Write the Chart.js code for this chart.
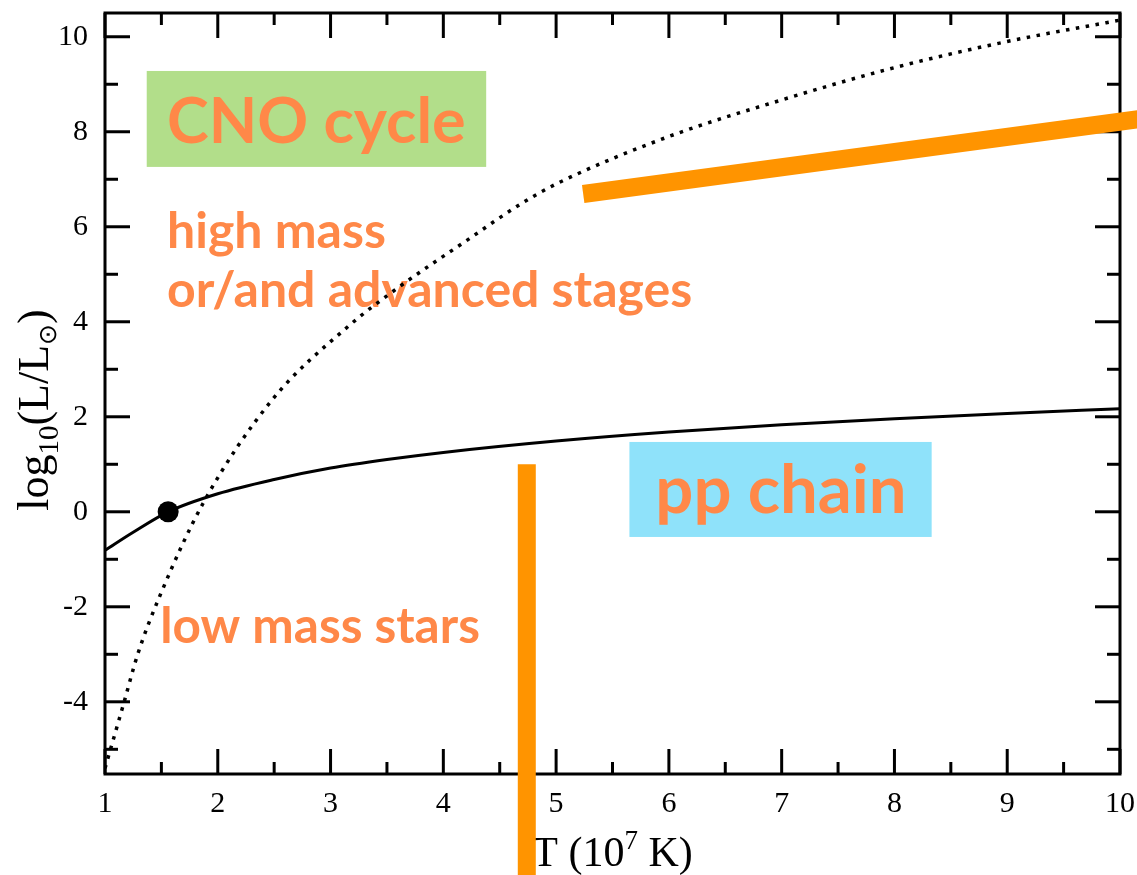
<!DOCTYPE html>
<html>
<head>
<meta charset="utf-8">
<script src="https://cdn.jsdelivr.net/npm/chart.js@4.4.0/dist/chart.umd.min.js"></script>
<style>
  html, body { margin: 0; padding: 0; background: #fff; }
</style>
</head>
<body>
<canvas id="grafico" width="1137" height="875"></canvas>
<script>
// Datos leídos de la figura
// pp chain (línea continua)
const ppT = [1.0, 1.25, 1.56, 2.0, 2.5, 3.0, 3.5, 4.0, 5.0, 6.0, 7.0, 8.0, 9.0, 10.0];
const ppL = [-0.81, -0.43, 0.0, 0.38, 0.68, 0.92, 1.1, 1.25, 1.49, 1.68, 1.83, 1.96, 2.07, 2.17];

// CNO cycle (línea punteada)
const cnoT = [1.0, 1.17, 1.29, 1.49, 1.87, 2.48, 3.15, 3.6, 4.2, 4.7, 5.0, 6.0, 7.0, 8.0, 9.0, 10.0];
const cnoL = [-5.4, -4.0, -3.0, -1.75, 0.18, 2.35, 3.89, 4.72, 5.7, 6.5, 6.9, 7.9, 8.67, 9.35, 9.9, 10.35];

// Sol
const solT = [1.56];
const solL = [0.0];

// Barras naranjas
const barraDiagT = [5.24, 10.3];
const barraDiagL = [6.69, 8.31];
const barraVertT = [4.74, 4.74];
const barraVertL = [1.0, -7.8];

// Ejes
const xTicks = [1, 2, 3, 4, 5, 6, 7, 8, 9, 10];
const xMinor = [1.5, 2.5, 3.5, 4.5, 5.5, 6.5, 7.5, 8.5, 9.5];
const yTicks = [-4, -2, 0, 2, 4, 6, 8, 10];
const yMinor = [-5, -3, -1, 1, 3, 5, 7, 9];

// Etiquetas de texto (coordenadas en datos)
const cajas = [
  { x0: 1.37, x1: 4.38, y0: 9.28, y1: 7.26, color: '#b2de8a' },
  { x0: 5.65, x1: 8.33, y0: 1.47, y1: -0.53, color: '#8fe2fa' }
];
const textos = [
  { texto: 'CNO cycle', x: 1.55, y: 7.76, size: 63 },
  { texto: 'pp chain', x: 5.88, y: -0.03, size: 67 },
  { texto: 'high mass', x: 1.55, y: 5.55, size: 50 },
  { texto: 'or/and advanced stages', x: 1.55, y: 4.31, size: 50 },
  { texto: 'low mass stars', x: 1.49, y: -2.77, size: 49.5 }
];

const pares = (xs, ys) => xs.map((v, i) => ({ x: v, y: ys[i] }));

/**
 * Dibuja un texto con partes de distinto tamaño (sub/superíndices)
 */
function dibujarPartes(ctx, partes, x, y) {
  let ancho = 0;
  partes.forEach(p => {
    ctx.font = p.size + 'px "Liberation Serif"';
    p.w = ctx.measureText(p.t).width;
    ancho += p.w;
  });
  let cx = x - ancho / 2;
  ctx.textAlign = 'left';
  ctx.textBaseline = 'alphabetic';
  partes.forEach(p => {
    ctx.font = p.size + 'px "Liberation Serif"';
    ctx.fillText(p.t, cx, y + (p.dy || 0));
    cx += p.w;
  });
}

function linea(ctx, x1, y1, x2, y2) {
  ctx.beginPath();
  ctx.moveTo(x1, y1);
  ctx.lineTo(x2, y2);
  ctx.stroke();
}

// Quitar el relleno automático de las escalas
function sinRelleno(scale) {
  scale.paddingTop = 0;
  scale.paddingBottom = 0;
  scale.paddingLeft = 0;
  scale.paddingRight = 0;
}

const marcoPlugin = {
  id: 'marco',
  beforeDatasetsDraw(chart) {
    const { ctx, chartArea: a, scales: { x, y } } = chart;
    ctx.save();

    // Cajas de color
    cajas.forEach(c => {
      const px0 = x.getPixelForValue(c.x0), px1 = x.getPixelForValue(c.x1);
      const py0 = y.getPixelForValue(c.y0), py1 = y.getPixelForValue(c.y1);
      ctx.fillStyle = c.color;
      ctx.fillRect(px0, py0, px1 - px0, py1 - py0);
    });

    // Textos naranjas
    ctx.fillStyle = '#ff8848';
    ctx.textAlign = 'left';
    ctx.textBaseline = 'alphabetic';
    textos.forEach(t => {
      ctx.font = 'bold ' + t.size + 'px Lato';
      ctx.fillText(t.texto, x.getPixelForValue(t.x), y.getPixelForValue(t.y));
    });

    // Marco
    ctx.strokeStyle = '#000';
    ctx.lineWidth = 3;
    ctx.strokeRect(a.left, a.top, a.right - a.left, a.bottom - a.top);

    // Marcas hacia dentro
    xTicks.forEach(v => {
      const px = x.getPixelForValue(v);
      linea(ctx, px, a.bottom, px, a.bottom - 25);
      linea(ctx, px, a.top, px, a.top + 25);
    });
    xMinor.forEach(v => {
      const px = x.getPixelForValue(v);
      linea(ctx, px, a.bottom, px, a.bottom - 12);
      linea(ctx, px, a.top, px, a.top + 12);
    });
    yTicks.forEach(v => {
      const py = y.getPixelForValue(v);
      linea(ctx, a.left, py, a.left + 25, py);
      linea(ctx, a.right, py, a.right - 25, py);
    });
    yMinor.forEach(v => {
      const py = y.getPixelForValue(v);
      linea(ctx, a.left, py, a.left + 13, py);
      linea(ctx, a.right, py, a.right - 13, py);
    });

    // Títulos de ejes
    ctx.fillStyle = '#000';
    dibujarPartes(ctx, [
      { t: 'T (10', size: 42 },
      { t: '7', size: 27, dy: -17 },
      { t: ' K)', size: 42 }
    ], (a.left + a.right) / 2, 866);

    ctx.save();
    ctx.translate(48, 410);
    ctx.rotate(-Math.PI / 2);
    dibujarPartes(ctx, [
      { t: 'log', size: 44 },
      { t: '10', size: 29, dy: 10 },
      { t: '(L/L', size: 44 },
      { t: '\u2299', size: 25, dy: 8 },
      { t: ')', size: 44 }
    ], 0, 0);
    ctx.restore();

    ctx.restore();
  }
};

const ctx = document.getElementById('grafico');
const grafico = new Chart(ctx, {
  type: 'line',
  data: {
    datasets: [
      {
        data: pares(solT, solL),
        showLine: false,
        pointRadius: 10.5,
        pointBackgroundColor: '#000',
        pointBorderWidth: 0
      },
      {
        data: pares(ppT, ppL),
        borderColor: '#000',
        borderWidth: 3,
        pointRadius: 0,
        cubicInterpolationMode: 'monotone'
      },
      {
        data: pares(cnoT, cnoL),
        borderColor: '#000',
        borderWidth: 3.5,
        borderDash: [3.5, 6.5],
        pointRadius: 0,
        cubicInterpolationMode: 'monotone'
      },
      {
        data: pares(barraDiagT, barraDiagL),
        borderColor: '#ff9400',
        borderWidth: 18,
        borderCapStyle: 'butt',
        pointRadius: 0,
        clip: false
      },
      {
        data: pares(barraVertT, barraVertL),
        borderColor: '#ff9400',
        borderWidth: 18,
        borderCapStyle: 'butt',
        pointRadius: 0,
        clip: false
      }
    ]
  },
  options: {
    responsive: false,
    animation: false,
    layout: { padding: { top: 13, right: 17, left: 0, bottom: 0 } },
    plugins: {
      legend: { display: false },
      tooltip: { enabled: false }
    },
    scales: {
      x: {
        type: 'linear',
        min: 1,
        max: 10,
        grid: { display: false, drawTicks: false },
        border: { display: false },
        afterFit: scale => { scale.height = 101; sinRelleno(scale); },
        afterBuildTicks: scale => { scale.ticks = xTicks.map(v => ({ value: v })); },
        ticks: {
          padding: 12,
          color: '#000',
          maxRotation: 0,
          font: { family: '"Liberation Serif"', size: 30 }
        }
      },
      y: {
        type: 'linear',
        min: -5.52,
        max: 10.5,
        grid: { display: false, drawTicks: false },
        border: { display: false },
        afterFit: scale => { scale.width = 105; sinRelleno(scale); },
        afterBuildTicks: scale => { scale.ticks = yTicks.map(v => ({ value: v })); },
        ticks: {
          padding: 17,
          color: '#000',
          font: { family: '"Liberation Serif"', size: 30 }
        }
      }
    }
  },
  plugins: [marcoPlugin]
});
</script>
</body>
</html>
